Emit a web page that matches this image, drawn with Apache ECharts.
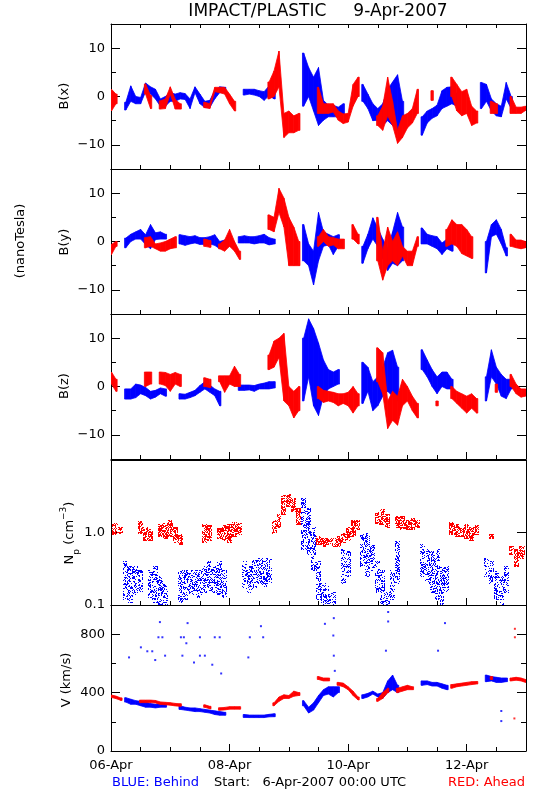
<!DOCTYPE html>
<html><head><meta charset="utf-8">
<script src="https://cdn.jsdelivr.net/npm/echarts@6/dist/echarts.min.js"></script>
<style>html,body{margin:0;padding:0;background:#fff}#c{width:550px;height:800px}</style>
</head><body><div id="c"></div>
<script>
// time bins (hours since 6-Apr-2007 00:00 UTC), 2-hour resolution
const hours = [0,2,4,6,8,10,12,14,16,18,20,22,24,26,28,30,32,34,36,38,40,42,44,46,48,50,52,54,56,58,60,62,64,66,68,70,72,74,76,78,80,82,84,86,88,90,92,94,96,98,100,102,104,106,108,110,112,114,116,118,120,122,124,126,128,130,132,134,136,138,140,142,144,146,148,150,152,154,156,158,160,162,164,166,168];
const tickHours = [0, 48, 96, 144];
const tickLabels = ['06-Apr', '08-Apr', '10-Apr', '12-Apr'];

// [low, high] ranges per bin; null = no data
const bxBlue = [null,null,null,[-2.8,-1.2],[-1.0,2.2],[-1.5,0],[-1.5,-0.2],[1.0,2.8],[0.5,2.0],[-0.5,1.5],
 [-2.0,-0.5],[-2.0,0],[-1.0,0.8],[-1.0,0.5],[-0.5,0.8],[-0.6,0.6],[-2.5,-0.5],[0.8,2.0],[-1.5,0.5],[-2.3,-1.0],
 [-2.3,-0.8],[-0.5,1.2],[0.8,2.0],[0.8,1.9],null,null,null,[0.3,1.5],[0.5,1.5],[0.3,1.5],
 [0,1.2],[-0.8,1.0],[0.2,2.2],[-0.5,1.5],null,null,null,null,null,[-2,9],
 [0,6],[-3,4],[-6,6],[-4.9,-0.8],[-4.2,-1.8],[-4.2,-1.8],[-4.2,-2.2],[-3.6,-1.5],null,null,
 null,[-1.0,2.5],[-2.5,0.5],[-5,-1.5],[-4.9,-2.5],[-6,-1.5],[-5,1.5],[-6,3],[-7,4.5],[-6,-1],
 null,null,null,[-8,-4.2],[-5.5,-3],[-4.5,-2.5],[-4,-1.8],[-2.5,1.2],[-2,1.9],[-1.5,2],
 [-2,0.5],null,null,null,null,[-2.5,2.9],[-1,2.5],[-3,-0.5],[-4,-1.5],[-4.2,-2],
 [-0.5,2.9],[-2.5,0],null,null,null];
const bxRed = [[-3,1.5],[-1.5,0.5],null,null,null,null,null,[0.5,2.6],[-2.5,0.2],null,
 [-2.6,-0.9],[-2.5,-0.5],[0.5,2.0],[-2.6,-0.6],[-2.6,-1.5],null,null,null,null,[-2.3,-1.2],
 [-2.5,-1.5],[1.0,1.9],[0.8,1.9],[0.5,1.9],[-1.5,0.5],[-3,-1],null,null,null,null,
 null,null,[-0.5,3],[0,5.3],[2,9.4],[-8.5,-3.5],[-7.5,-3],[-7.5,-4],[-7,-3.5],null,
 null,null,[-3.5,1.9],[-3.5,-1.5],[-3.5,-1.5],[-3.2,-1.5],[-4.9,-3],[-5.6,-3.6],[-5.3,-3.5],[-2,2.5],
 [0,4],null,null,null,[-6,-4],[-7,-2],[-4,4],[-6,-1],[-9.7,-7],[-8.5,-4],
 [-6.5,-3.5],[-5.5,-2.5],[-3.5,1.5],null,null,[-0.8,1.2],null,null,null,[0,4],
 [-3,2.5],[-4,1],[-3.5,1.5],[-6,-2],[-5.5,-3],null,null,[-3.5,-1],[-3.5,-1.5],null,
 null,[-3.5,0],[-3.5,-2.2],[-3.5,-2.2],[-2.9,-2]];

const byBlue = [null,null,null,[-1.3,0.7],[0,1.5],[0.5,2],[0.5,2.5],[-0.6,1.4],[-1.5,3.5],[0.4,1.8],
 [0.5,2.0],[0.5,1.5],null,null,[-0.5,1.4],[-0.8,1.2],[-0.5,1.0],[-0.3,1.2],[-0.6,0.8],[-0.6,0.8],
 [-0.5,1.0],[-0.8,1.4],[-1.5,0],[-1.0,0.3],null,null,[-0.3,1.0],[-0.3,1.2],[-0.3,1.0],[-0.5,1.0],
 [-0.3,1.2],[-0.3,1.5],[-0.7,0.8],[-0.5,0.5],null,null,null,null,null,[-4,3.5],
 [-5,-0.5],[-9,-2],[-4,6],[-1,2.0],[-0.7,1.5],[-2.7,1.0],[-1,1.4],null,null,null,
 null,[-4.5,-1],[-1.5,1.5],[0.5,4.9],[-1,2.8],[-3.5,0.5],[-6,-1.5],[-4.5,2],[-5,6],[-4,3],
 null,null,null,[-0.5,2.8],[-0.5,1.5],[-1,1.2],[-1.5,1.0],[-2.7,-0.3],[-1.5,0.5],[-2,0],
 null,null,null,null,null,null,[-6.5,0],[1,3.5],[1.5,4.5],[-0.5,2.5],
 [-3,-1.3],null,null,null,null];
const byRed = [[-2.7,-0.6],[-1,0],null,null,null,null,null,[-1.3,0.8],[-1.0,1.0],[-1.5,-0.5],
 [-2.0,-0.3],[-2,0],[-1.5,0.5],[-1.3,1.0],null,null,null,null,null,[-1.0,0.5],
 [-1.2,0.2],null,[-1.5,-0.5],[-2.0,0.3],[-1,2.5],[-2,0],[-3.7,-2],null,null,null,
 null,null,[2.5,5.5],[2,5],[6,11],[3,9],[-5,5],[-5,3],[-5,0],null,
 null,null,[-1,1.0],[0,2.5],[-1,1.0],[-0.7,0.8],[-1.5,0.5],[-1.5,0.5],null,[0.5,3.5],
 [-0.5,1.5],null,null,null,[-4,5],[-8,-2],[-5,3],[-4,0],[-5,2],[-3,-1],
 [-5,-2],[-5,-2],[-1,1.0],null,null,null,null,null,[-1,2.5],[-0.5,4.5],
 [-1,3.5],[-2.5,3.5],[-3,2.5],[-3.5,1],null,null,null,null,null,null,
 null,[-1.0,1.5],[-1.3,0.3],[-1.5,0.3],[-1.3,0]];

const bzBlue = [null,null,null,[-2.6,-0.5],[-2.6,-0.5],[-2.3,0.5],[-1.5,0.3],[-1.9,-0.2],[-2.6,-1.0],[-2.2,-0.8],
 [-1.5,-0.3],[-2,-0.5],null,null,[-2.6,-1.5],[-2.6,-1.6],[-2.3,-1.2],[-1.9,-0.8],[-1.2,0.2],[-0.5,1.0],
 [-1.2,0.3],[-1.9,-0.5],[-4,-1],null,null,null,[-0.8,0.3],[-0.8,0.3],[-0.7,0.3],[-1.0,0.2],
 [-0.5,0.5],[-0.5,0.7],[-0.5,1.0],[-0.3,1.0],null,null,null,null,null,[-3,10],
 [2,14],[-4,12],[-6,9],[-2,5.5],[-0.5,3.5],[0,3],[0.5,3.5],null,null,null,
 null,[-3.5,5],[-1,4],[-5,1],[-4,2],[-2,4],[-1,7],[-2,7.5],[-3,4],null,
 null,null,null,[3.5,7.6],[2,5.5],[0,3.5],[-1.5,2],[0,3],[-0.5,3],[-0.5,1.5],
 null,null,null,null,null,null,[-3,2],[2,7.6],[0.5,4],[-2,2.5],
 [-2.5,1.5],[-0.5,1.5],null,null,null];
const bzRed = [[0.5,3],[-1,1.5],null,null,null,null,null,[0,3],[0.5,3],null,
 [0.5,3],[0.2,2.9],[-1,2.5],[0.5,2.9],[0,2.5],null,null,null,null,[0,1.8],
 [-0.2,1.5],null,[1.0,2.2],[-1.2,2.2],[0.5,2.2],[0,4.2],[0,2.5],null,null,null,
 null,null,[3.5,6.5],[4,9.4],[6,10],[-3,11],[-4,0],[-6.5,-1],[-5,0],null,
 null,null,[-2.5,0],[-3.3,-0.8],[-3,-1],[-3.3,-1.2],[-4,-1.5],[-3.5,-1.5],[-4,-1.2],[-5.5,0],
 [-4,-1.5],null,null,null,[1,8],[-1.5,7],[-8.7,-3],[-7,-1],[-8,-2],[-4,1.5],
 [-3,0],[-5,-2],[-6.5,-3.5],null,null,null,[-4,-3],null,null,[-2.5,0],
 [-3.5,-1],[-4.5,-1.5],[-5.5,-2],[-4.5,-1.5],[-5.5,-2.5],null,null,null,[-1.2,0.5],null,
 null,[0,2.5],[-1.5,0.5],[-2.2,-0.5],[-2,-0.5]];

const npBlue = [null,null,null,[0.12,0.4],[0.11,0.35],[0.14,0.35],[0.15,0.3],null,[0.12,0.3],[0.11,0.35],
 [0.1,0.25],[0.1,0.2],null,null,[0.11,0.3],[0.12,0.3],[0.14,0.3],[0.14,0.3],[0.13,0.3],[0.15,0.35],
 [0.16,0.4],[0.15,0.35],[0.14,0.4],[0.13,0.3],null,null,null,[0.17,0.4],[0.15,0.35],[0.17,0.42],
 [0.2,0.45],[0.18,0.45],[0.2,0.45],null,null,null,null,null,null,[0.6,3.0],
 [0.5,2.2],[0.3,1.2],[0.12,0.4],[0.1,0.2],[0.1,0.18],[0.1,0.15],null,[0.2,0.6],[0.25,0.55],null,
 null,[0.35,1.0],[0.25,1.0],[0.3,0.7],[0.15,0.4],[0.1,0.3],[0.1,0.15],[0.12,0.3],[0.2,0.8],null,
 null,null,null,[0.25,0.7],[0.2,0.6],[0.15,0.55],[0.12,0.6],[0.1,0.35],[0.15,0.35],null,
 null,null,null,null,null,null,[0.25,0.45],[0.2,0.4],[0.12,0.3],[0.1,0.25],
 [0.15,0.35],null,null,null,null];
const npRed = [[0.95,1.3],[0.95,1.35],[1.0,1.2],null,null,null,[1.0,1.45],[0.8,1.2],[0.8,1.1],null,
 [0.9,1.3],[0.85,1.35],[0.9,1.5],[0.75,1.2],[0.7,0.95],null,null,null,null,[0.75,1.3],
 [0.8,1.25],null,[0.85,1.15],[0.8,1.25],[0.75,1.3],[0.9,1.4],[0.95,1.35],null,null,null,
 null,null,null,[1.0,1.5],[1.2,1.8],[1.8,3.3],[2.3,3.5],[2.0,3.0],[1.3,2.2],null,
 null,null,[0.7,0.9],[0.65,0.85],[0.7,0.85],[0.65,0.85],[0.65,0.9],[0.75,1.0],[0.8,1.2],[0.9,1.5],
 [1.1,1.5],null,null,null,[1.3,1.9],[1.3,2.1],[1.2,1.8],null,[1.2,1.7],[1.1,1.7],
 [1.1,1.5],[1.1,1.6],[1.2,1.5],null,null,null,null,null,null,[0.95,1.4],
 [0.9,1.3],[0.9,1.2],[0.85,1.3],[0.8,1.2],[0.95,1.25],null,null,[0.85,0.95],null,null,
 null,[0.5,0.65],[0.35,0.6],[0.45,0.65],[0.5,0.65]];

const vBlue = [null,null,null,[335,365],[320,355],[320,345],[310,340],[300,335],[300,325],[295,320],
 [300,325],[300,320],null,null,[285,310],[280,300],[275,295],[270,295],[270,290],[265,285],
 [260,280],[250,275],[245,270],[245,265],null,null,null,[230,250],[230,245],[230,245],
 [230,245],[230,245],[235,250],[235,255],null,null,null,null,null,[310,345],
 [260,300],[280,330],[330,380],[380,420],[390,440],[370,440],[400,440],null,null,null,
 null,[360,385],[370,395],[390,410],[370,390],[360,400],[400,480],[420,520],[400,450],null,
 null,null,null,[450,480],[455,480],[445,470],[445,470],[430,460],[420,450],null,
 null,null,null,null,null,null,[475,520],[480,510],[470,505],[470,500],
 [475,500],null,null,null,null];
const vRed = [[370,380],[360,375],[350,360],null,null,null,[335,345],[335,345],[335,345],[330,345],
 [320,335],[320,330],[315,330],[310,325],[310,320],null,null,null,null,[300,315],
 [290,305],null,[280,295],[285,295],[290,300],[290,300],[290,300],null,null,null,
 null,null,null,[310,330],[340,370],[360,385],[360,380],[375,410],[380,400],null,
 null,null,[490,510],[480,500],[480,500],null,[450,470],[440,465],[420,440],[380,410],
 [350,370],null,null,null,[340,360],[360,400],[400,430],null,[400,430],[410,440],
 [420,450],[420,440],null,null,null,null,null,null,null,[430,455],
 [440,460],[445,465],[450,470],[455,475],[460,475],null,null,[490,510],null,null,
 null,[480,500],[485,505],[480,500],[470,490]];

// isolated speed points
const vBlueOutHours = [7.3,12.1,14.7,16.7,17.9,19.2,19.8,20.8,21.9,28.3,28.9,29.5,30.5,31,33.6,36,36,38,41,42,44,44.6,55.6,56.2,60.7,61.6,86.6,90,90.2,90.2,90.6,111.3,112.2,112.2,132.4,135.2,158,158];
const vBlueOutValues = [641,710,683,683,623,779,883,779,653,779,653,779,738,876,607,779,653,653,591,779,779,531,641,779,855,779,871,791,910,653,549,687,887,952,687,876,274,205];
const vRedOutHours = [163.5,163.5,163.3];
const vRedOutValues = [837,779,223];

const BLUE = '#0000ff', RED = '#ff0000';
const FONT = 'DejaVu Sans';

// rows: [hour, lo, hi, hasPrev, hasNext, nextLo, nextHi]
function band(arr) {
  const out = [];
  hours.forEach((h, i) => {
    if (!arr[i]) return;
    const p = i > 0 && arr[i - 1], n = i < hours.length - 1 && arr[i + 1];
    out.push([h, arr[i][0], arr[i][1], p ? 1 : 0, n ? 1 : 0, n ? n[0] : arr[i][0], n ? n[1] : arr[i][1]]);
  });
  return out;
}
function ribbon(color) {
  return function (params, api) {
    const cs = params.coordSys;
    const cx = x => Math.max(cs.x + 0.5, Math.min(cs.x + cs.width - 0.5, x));
    const cy = y => Math.max(cs.y + 0.5, Math.min(cs.y + cs.height - 0.5, y));
    const h = api.value(0);
    function col(hh, lo, hi) {
      const a = api.coord([hh, hi]), b = api.coord([hh, lo]);
      let t = a[1], u = b[1];
      if (u - t < 2.5) { const m = (t + u) / 2; t = m - 1.25; u = m + 1.25; }
      return [cx(a[0]), cy(t), cy(u)];
    }
    const A = col(h, api.value(1), api.value(2));
    const children = [];
    const st = { fill: color, stroke: color, lineWidth: 0.8, lineJoin: 'round' };
    if (api.value(4)) {
      const B = col(h + 2, api.value(5), api.value(6));
      children.push({ type: 'polygon', shape: { points: [[A[0], A[1]], [B[0], B[1]], [B[0], B[2]], [A[0], A[2]]] }, style: st });
    }
    if (!api.value(3)) {
      const x0 = cx(A[0] - 1.2);
      children.push({ type: 'rect', shape: { x: x0, y: A[1], width: A[0] - x0, height: A[2] - A[1] }, style: st });
    }
    if (!api.value(4)) {
      const x1 = cx(A[0] + 1.2);
      children.push({ type: 'rect', shape: { x: A[0], y: A[1], width: x1 - A[0], height: A[2] - A[1] }, style: st });
    }
    return { type: 'group', children };
  };
}
// speckle texture (deterministic pixel hash) used to fill density ranges
function speck(px, py) {
  let k = Math.imul(px ^ (py << 16), 0x45d9f3b);
  k ^= k >>> 16; k = Math.imul(k, 0x45d9f3b); k ^= k >>> 16;
  return (k >>> 0) % 100;
}
function cloud(color, density) {
  return function (params, api) {
    const cs = params.coordSys;
    const h = api.value(0);
    const a = api.coord([h - 1, api.value(2)]), b = api.coord([h + 1, api.value(1)]);
    const children = [];
    const xs = Math.max(Math.round(a[0]), Math.ceil(cs.x + 1));
    const xe = Math.min(Math.round(b[0]), Math.floor(cs.x + cs.width - 1));
    const ys = Math.max(Math.round(a[1]), Math.ceil(cs.y + 1));
    const ye = Math.min(Math.round(b[1]), Math.floor(cs.y + cs.height - 1));
    for (let px = xs; px < xe; px++) {
      for (let py = ys; py <= ye; py++) {
        if (speck(px, py) < density) {
          children.push({ type: 'rect', shape: { x: px, y: py, width: 1, height: 1 }, style: { fill: color } });
        }
      }
    }
    return { type: 'group', children };
  };
}

const panels = [
  { top: 24,  height: 145, kind: 'B', blue: bxBlue, red: bxRed },
  { top: 169, height: 145, kind: 'B', blue: byBlue, red: byRed },
  { top: 314, height: 145, kind: 'B', blue: bzBlue, red: bzRed },
  { top: 460, height: 145, kind: 'N', blue: npBlue, red: npRed },
  { top: 605, height: 146, kind: 'V', blue: vBlue, red: vRed }
];

const grid = [], xAxis = [], yAxis = [], series = [];
const axisLine = { show: true, onZero: false, lineStyle: { color: '#000', width: 1 } };
const tickStyle = { color: '#000', width: 1 };
const minusFmt = v => (v < 0 ? '\u2212' + (-v) : String(v));

panels.forEach((p, i) => {
  grid.push({ left: 111, width: 415, top: p.top, height: p.height });
  const xb = xAxis.length;
  const last = i === panels.length - 1;
  xAxis.push({ gridIndex: i, type: 'value', min: 0, max: 168, interval: 12, position: 'bottom',
    axisLine, axisTick: { inside: true, length: 4, lineStyle: tickStyle }, axisLabel: { show: false }, splitLine: { show: false } });
  xAxis.push({ gridIndex: i, type: 'value', min: 0, max: 168, position: 'bottom',
    axisLine: { show: false, onZero: false }, axisTick: { inside: true, length: 7, lineStyle: tickStyle, customValues: tickHours },
    axisLabel: last ? { show: true, customValues: tickHours, margin: 8, color: '#000', fontFamily: FONT, fontSize: 13,
      formatter: v => tickLabels[tickHours.indexOf(v)] || '' } : { show: false },
    splitLine: { show: false } });
  xAxis.push({ gridIndex: i, type: 'value', min: 0, max: 168, interval: 12, position: 'top',
    axisLine, axisTick: { show: i === 0, inside: true, length: 4, lineStyle: tickStyle }, axisLabel: { show: false }, splitLine: { show: false } });

  const yb = yAxis.length;
  const lbl = { color: '#000', fontFamily: FONT, fontSize: 13, margin: 6 };
  if (p.kind === 'N') {
    const base = { gridIndex: i, type: 'log', logBase: 10, min: 0.1, max: 10, splitLine: { show: false } };
    yAxis.push(Object.assign({}, base, { position: 'left', axisLine, axisTick: { inside: true, length: 9, lineStyle: tickStyle },
      axisLabel: Object.assign({}, lbl, { formatter: v => (v < 0.5 ? '0.1' : v < 5 ? '1.0' : '') }) }));
    yAxis.push(Object.assign({}, base, { position: 'right', axisLine, axisTick: { inside: true, length: 9, lineStyle: tickStyle },
      axisLabel: { show: false } }));
  } else {
    const isB = p.kind === 'B';
    const mn = isB ? -15 : 0, mx = isB ? 15 : 1000;
    const major = isB ? [-10, 0, 10] : [0, 400, 800];
    const minor = isB ? [-5, 5] : [200, 600, 1000];
    const base = { gridIndex: i, type: 'value', min: mn, max: mx, splitLine: { show: false } };
    ['left', 'right'].forEach(pos => {
      yAxis.push(Object.assign({}, base, { position: pos, axisLine,
        axisTick: { inside: true, length: 9, lineStyle: tickStyle, customValues: major },
        axisLabel: pos === 'left' ? Object.assign({}, lbl, { customValues: major, formatter: minusFmt }) : { show: false } }));
      yAxis.push(Object.assign({}, base, { position: pos, axisLine: { show: false, onZero: false },
        axisTick: { inside: true, length: 5, lineStyle: tickStyle, customValues: minor }, axisLabel: { show: false } }));
    });
  }
  const isN = p.kind === 'N';
  series.push({ type: 'custom', xAxisIndex: xb, yAxisIndex: yb, data: band(p.blue), silent: true,
    renderItem: isN ? cloud(BLUE, 38) : ribbon(BLUE), encode: { x: 0, y: [1, 2] } });
  series.push({ type: 'custom', xAxisIndex: xb, yAxisIndex: yb, data: band(p.red), silent: true,
    renderItem: isN ? cloud(RED, 62) : ribbon(RED), encode: { x: 0, y: [1, 2] } });
  if (p.kind === 'V') {
    series.push({ type: 'scatter', xAxisIndex: xb, yAxisIndex: yb, symbol: 'rect', symbolSize: 2, silent: true,
      itemStyle: { color: BLUE }, data: vBlueOutHours.map((h, k) => [h, vBlueOutValues[k]]) });
    series.push({ type: 'scatter', xAxisIndex: xb, yAxisIndex: yb, symbol: 'rect', symbolSize: 2, silent: true,
      itemStyle: { color: RED }, data: vRedOutHours.map((h, k) => [h, vRedOutValues[k]]) });
  }
});

function txt(text, x, y, opts) {
  return Object.assign({ type: 'text', x: x, y: y, silent: true,
    style: Object.assign({ text: text, fill: '#000', font: '13px "' + FONT + '"', align: 'center', verticalAlign: 'middle' }, (opts && opts.style) || {}) },
    (opts && opts.el) || {});
}
const rot = { el: { rotation: Math.PI / 2 } };

const graphic = [
  txt('IMPACT/PLASTIC     9-Apr-2007', 318, 12, { style: { font: '17px "' + FONT + '"' } }),
  txt('B(x)', 65, 96, rot),
  txt('B(y)', 65, 242, rot),
  txt('(nanoTesla)', 21, 241, rot),
  txt('B(z)', 65, 386, rot),
  { type: 'text', x: 70, y: 533, rotation: Math.PI / 2, silent: true,
    style: { text: '{n|N}{s|p}{n| (cm}{u|\u22123}{n|)}', align: 'center', verticalAlign: 'middle',
      rich: { n: { fontFamily: FONT, fontSize: 13, lineHeight: 22, verticalAlign: 'middle', fill: '#000' },
              s: { fontFamily: FONT, fontSize: 9, lineHeight: 9, verticalAlign: 'bottom', fill: '#000' },
              u: { fontFamily: FONT, fontSize: 9, lineHeight: 9, verticalAlign: 'top', fill: '#000' } } } },
  txt('V (km/s)', 67, 680, rot),
  txt('BLUE: Behind', 112, 783, { style: { fill: BLUE, align: 'left' } }),
  txt('Start:   6-Apr-2007 00:00 UTC', 214, 783, { style: { align: 'left' } }),
  txt('RED: Ahead', 525, 783, { style: { fill: RED, align: 'right' } })
];

const chart = echarts.init(document.getElementById('c'), null, { renderer: 'canvas' });
chart.setOption({ backgroundColor: '#fff', animation: false, grid, xAxis, yAxis, series, graphic });
</script></body></html>
